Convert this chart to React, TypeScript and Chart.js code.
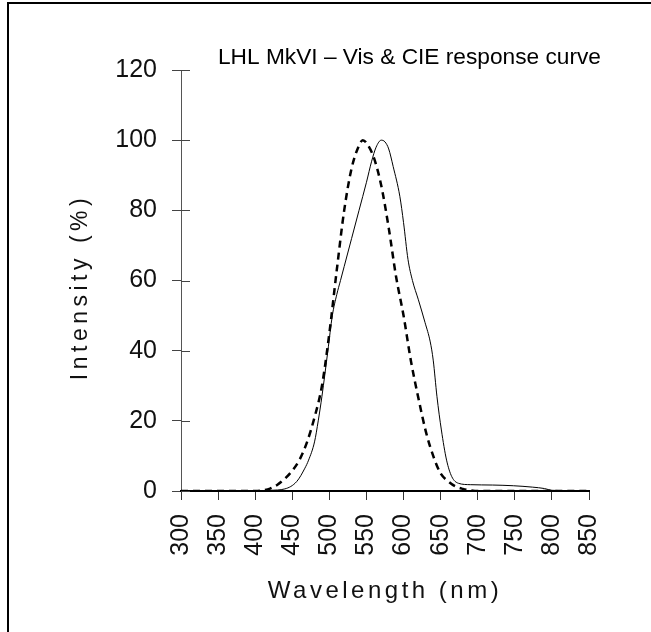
import React, { useEffect, useRef } from 'react';
import { Chart, registerables } from 'chart.js';

Chart.register(...registerables);

const TITLE = 'LHL MkVI – Vis & CIE response curve';
const X_TITLE = 'Wavelength (nm)';
const Y_TITLE = 'Intensity (%)';

const xTicks = [300, 350, 400, 450, 500, 550, 600, 650, 700, 750, 800, 850];
const yTicks = [0, 20, 40, 60, 80, 100, 120];

// Vis response (solid line)
const visNm = [300, 400, 420, 440, 456, 467, 472, 480, 485, 490, 498, 504, 510, 515, 520, 530, 540, 550, 557, 563, 570, 575, 580, 586, 595, 600, 606, 612, 620, 629, 636, 640, 645, 651, 658, 665, 674, 690, 720, 748, 774, 790, 800, 850];
const visVal = [0, 0, 0.2, 0.6, 2.7, 6.5, 8.8, 14, 20, 27, 40, 50, 56, 60, 64, 72, 80, 88, 94, 98, 100, 99.5, 97.5, 92.5, 84, 76.5, 66, 60, 54.5, 48, 42.5, 37.3, 27, 17.4, 8.8, 4.1, 2.2, 1.8, 1.7, 1.5, 1.1, 0.7, 0.2, 0];

// CIE response (dashed line)
const cieNm = [300, 400, 410, 420, 430, 440, 450, 460, 470, 480, 490, 500, 510, 520, 530, 540, 545, 550, 560, 570, 580, 590, 600, 610, 620, 630, 640, 650, 660, 670, 680, 690, 700, 850];
const cieVal = [0, 0, 0.2, 0.7, 1.8, 3.5, 5.8, 9, 14, 21, 30, 45, 63, 80, 92, 98.5, 100, 99.2, 95, 87, 75, 61, 50, 37, 26.5, 17, 10, 5, 2.8, 1.3, 0.6, 0.2, 0, 0];

const FONT = '"Liberation Sans", Arial, sans-serif';

export default function App() {
  const ref = useRef<HTMLCanvasElement>(null);

  useEffect(() => {
    const canvas = ref.current;
    if (!canvas) return;

    const decor = {
      id: 'decor',
      beforeDraw(chart: any) {
        const ctx = chart.ctx;
        ctx.save();
        ctx.fillStyle = '#ffffff';
        ctx.fillRect(0, 0, chart.width, chart.height);
        ctx.fillStyle = '#000000';
        ctx.fillRect(7, 2, 2, chart.height - 2);
        ctx.fillRect(7, 2, chart.width - 7, 2);
        ctx.restore();
      },
      afterDraw(chart: any) {
        const ctx = chart.ctx;
        const ys = chart.scales.y;
        const xs = chart.scales.x;
        const area = chart.chartArea;
        ctx.save();
        ctx.strokeStyle = '#444444';
        ctx.lineWidth = 1;
        ctx.beginPath();
        yTicks.forEach((v) => {
          const py = Math.round(ys.getPixelForValue(v)) + 0.5;
          ctx.moveTo(area.left, py);
          ctx.lineTo(area.left + 9, py);
        });
        ctx.stroke();

        // chart title
        ctx.fillStyle = '#000000';
        ctx.font = `22.7px ${FONT}`;
        ctx.textAlign = 'left';
        ctx.textBaseline = 'alphabetic';
        (ctx as any).letterSpacing = '0px';
        ctx.fillText(TITLE, 218, 64);

        ctx.fillStyle = '#111111';
        // x axis title
        ctx.font = `24px ${FONT}`;
        (ctx as any).letterSpacing = '3.5px';
        ctx.textAlign = 'center';
        ctx.fillText(X_TITLE, (xs.left + xs.right) / 2, 598);

        // y axis title
        ctx.translate(87, 287);
        ctx.rotate(-Math.PI / 2);
        ctx.font = `23px ${FONT}`;
        (ctx as any).letterSpacing = '4.5px';
        ctx.textAlign = 'center';
        ctx.fillText(Y_TITLE, 0, 0);
        ctx.restore();
      },
    };

    const chart = new Chart(canvas, {
      type: 'line',
      data: {
        datasets: [
          {
            label: 'Vis',
            data: visNm.map((x, i) => ({ x, y: visVal[i] })),
            borderColor: '#000000',
            borderWidth: 1,
            pointRadius: 0,
            fill: false,
            cubicInterpolationMode: 'monotone',
          },
          {
            label: 'CIE',
            data: cieNm.map((x, i) => ({ x, y: cieVal[i] })),
            borderColor: '#000000',
            borderWidth: 2.5,
            borderDash: [7, 5],
            pointRadius: 0,
            fill: false,
            cubicInterpolationMode: 'monotone',
          },
        ],
      },
      options: {
        responsive: false,
        animation: false,
        events: [],
        layout: { padding: { left: 0, top: 70, right: 62, bottom: 0 } },
        plugins: {
          legend: { display: false },
          tooltip: { enabled: false },
          title: { display: false },
        },
        scales: {
          x: {
            type: 'linear',
            min: 300,
            max: 850,
            afterBuildTicks: (s: any) => {
              s.ticks = xTicks.map((v) => ({ value: v }));
            },
            afterFit: (s: any) => {
              s.height = 141;
            },
            ticks: {
              autoSkip: false,
              minRotation: 90,
              maxRotation: 90,
              padding: 14,
              color: '#111111',
              font: { family: FONT, size: 25 },
            },
            grid: {
              drawOnChartArea: false,
              drawTicks: true,
              tickLength: 9,
              color: '#333333',
              lineWidth: 1,
            },
            border: { display: true, color: '#000000', width: 2 },
          },
          y: {
            type: 'linear',
            min: 0,
            max: 120,
            afterBuildTicks: (s: any) => {
              s.ticks = yTicks.map((v) => ({ value: v }));
            },
            afterFit: (s: any) => {
              s.width = 181;
            },
            ticks: {
              padding: 15,
              color: '#111111',
              font: { family: FONT, size: 25 },
            },
            grid: {
              drawOnChartArea: false,
              drawTicks: true,
              tickLength: 9,
              color: '#444444',
              lineWidth: 1,
            },
            border: { display: true, color: '#555555', width: 1 },
          },
        },
      },
      plugins: [decor],
    } as any);

    return () => chart.destroy();
  }, []);

  return (
    <div style={{ position: 'absolute', left: 0, top: 0, width: 651, height: 632, background: '#fff' }}>
      <canvas ref={ref} width={651} height={632} style={{ display: 'block', width: 651, height: 632 }} />
    </div>
  );
}
